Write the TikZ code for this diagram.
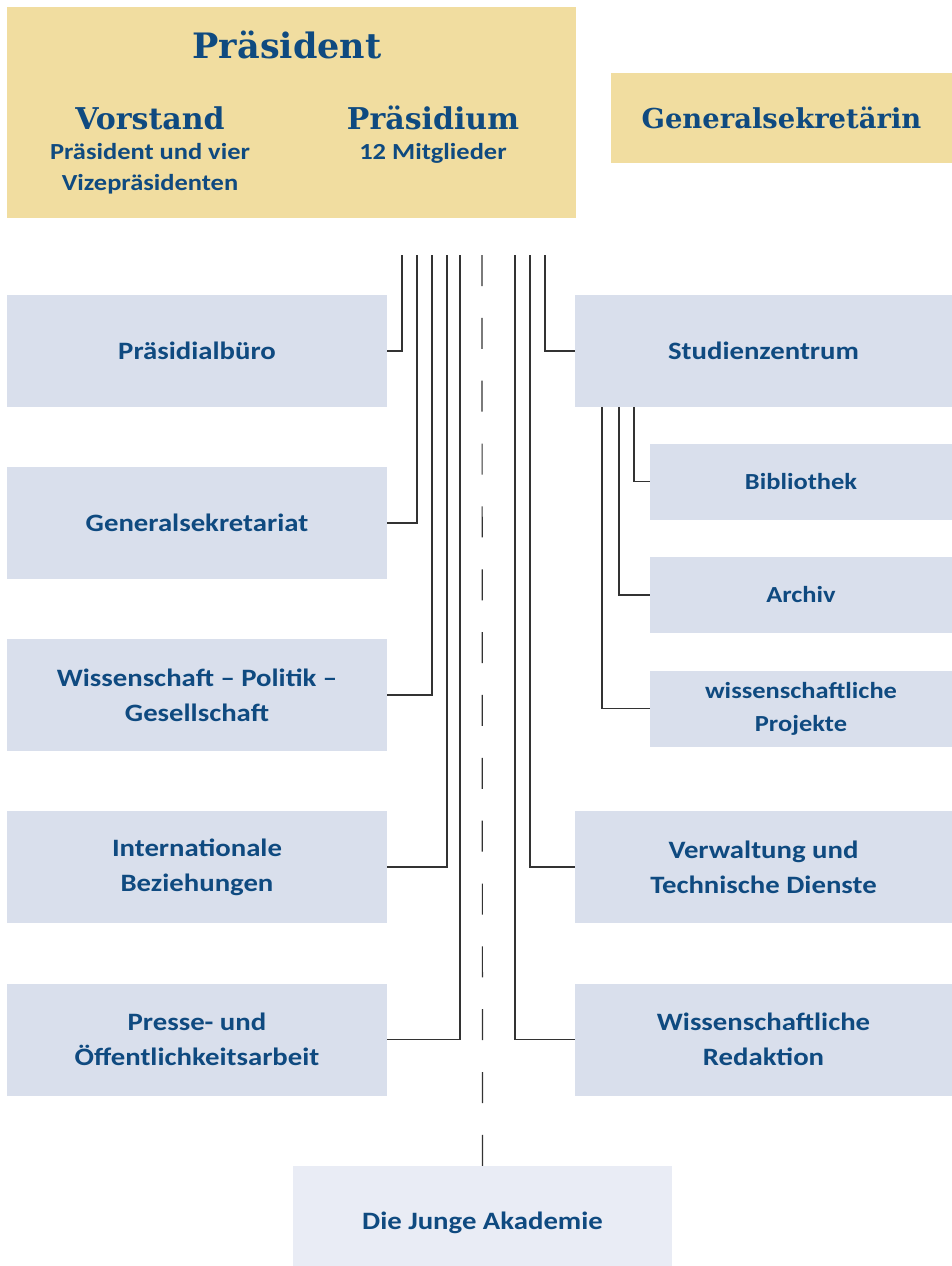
\documentclass[tikz,border=0pt]{standalone}
\usepackage{fontspec}
\setmainfont{Carlito}[FakeStretch=1.15]
\newfontfamily\headfont{DejaVu Serif}
\usetikzlibrary{positioning}

\definecolor{goldfill}{HTML}{F1DDA0}
\definecolor{unitfill}{HTML}{D9DFEC}
\definecolor{youngfill}{HTML}{E9ECF5}
\definecolor{textblue}{HTML}{0F4A80}
\definecolor{linegray}{HTML}{333333}

\begin{document}
\begin{tikzpicture}[x=1pt,y=-1pt,
  goldbox/.style={fill=goldfill,inner sep=0pt},
  unit/.style={fill=unitfill,inner sep=0pt,minimum width=380pt,minimum height=112pt,
    text=textblue,align=center,font=\bfseries\fontsize{25}{35}\selectfont},
  subunit/.style={unit,minimum width=302pt,minimum height=76pt,
    font=\bfseries\fontsize{23}{33}\selectfont},
  head/.style={text=textblue,inner sep=0pt,font=\headfont\bfseries\fontsize{30}{36}\selectfont},
  note/.style={text=textblue,inner sep=0pt,align=center,font=\bfseries\fontsize{23}{31}\selectfont},
  link/.style={draw=linegray,line width=1.2pt}]

\useasboundingbox (0,0) rectangle (952,1266);

% leadership
\node[goldbox,minimum width=569pt,minimum height=211pt] (board) at (291.5,112.5) {};
\node[head,font=\headfont\bfseries\fontsize{35}{40}\selectfont] (president) at (287,45) {Präsident};
\node[head] (vorstand) at (150,118) {Vorstand};
\node[note] (vorstandtext) at (150,169) {Präsident und vier\\Vizepräsidenten};
\node[note] (praesidiumtext) at (433,153) {12 Mitglieder};
\node[head] (praesidium) at (433,118) {Präsidium};
\node[goldbox,minimum width=341pt,minimum height=90pt,text=textblue,
  font=\headfont\bfseries\fontsize{27.4}{32}\selectfont] (gsin) at (781.5,118) {Generalsekretärin};

% units left
\node[unit] (pb) at (197,351) {Präsidialbüro};
\node[unit] (gs) at (197,523) {Generalsekretariat};
\node[unit] (wpg) at (197,695) {Wissenschaft – Politik –\\Gesellschaft};
\node[unit] (ib) at (197,867) {Internationale\\Beziehungen};
\node[unit] (pr) at (197,1039.5) {Presse- und\\Öffentlichkeitsarbeit};

% units right
\node[unit,minimum width=377pt] (sz) at (763.5,351) {Studienzentrum};
\node[subunit] (bib) at (801,481.5) {Bibliothek};
\node[subunit] (arc) at (801,595) {Archiv};
\node[subunit] (wp) at (801,708.5) {wissenschaftliche\\Projekte};
\node[unit,minimum width=377pt] (vt) at (763.5,867) {Verwaltung und\\Technische Dienste};
\node[unit,minimum width=377pt] (wr) at (763.5,1039.5) {Wissenschaftliche\\Redaktion};

\node[unit,fill=youngfill,minimum width=379pt,minimum height=100pt,
  text height=31pt,text depth=5pt] (ja) at (482.5,1216) {Die Junge Akademie};

% line ends
\foreach \n/\x in {a/402,b/417,c/432,d/447,e/460,m/482,f/515,g/530,h/545}
  \coordinate (top-\n) at (\x,255);
\foreach \n/\x in {a/602,b/619,c/634}
  \coordinate (sz-\n) at (\x,407);

\draw[link] (pb.east) -| (top-a);
\draw[link] (gs.east) -| (top-b);
\draw[link] (wpg.east) -| (top-c);
\draw[link] (ib.east) -| (top-d);
\draw[link] (pr.east) -| (top-e);
\draw[link] (sz.west) -| (top-h);
\draw[link] (vt.west) -| (top-g);
\draw[link] (wr.west) -| (top-f);
\draw[link] (bib.west) -| (sz-c);
\draw[link] (arc.west) -| (sz-b);
\draw[link] (wp.west) -| (sz-a);
\draw[link,dash pattern=on 31pt off 31.85pt] (top-m) -- (ja.north);

\end{tikzpicture}
\end{document}
